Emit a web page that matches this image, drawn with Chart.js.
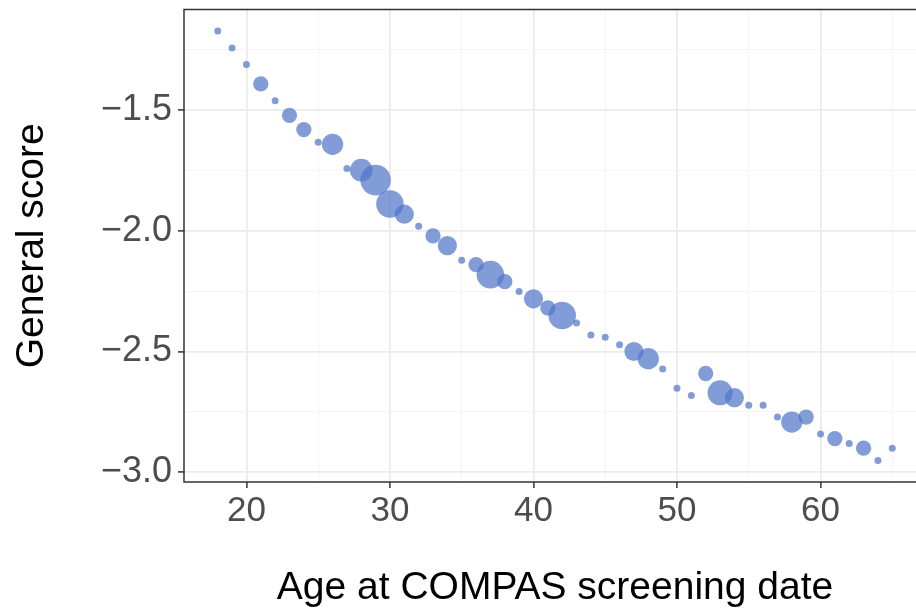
<!DOCTYPE html>
<html>
<head>
<meta charset="utf-8">
<script src="https://cdn.jsdelivr.net/npm/chart.js@4/dist/chart.umd.min.js"></script>
<style>
  html, body { margin: 0; padding: 0; background: #ffffff; overflow: hidden; }
  #wrap { width: 916px; height: 612px; overflow: hidden; }
  canvas { display: block; }
</style>
</head>
<body>
<div id="wrap"><canvas id="chart" width="940" height="612"></canvas></div>
<script>
// Mean general score by age at screening; bubble size = number of people of that age
const ages = [18, 19, 20, 21, 22, 23, 24, 25, 26, 27, 28, 29, 30, 31, 32, 33,
              34, 35, 36, 37, 38, 39, 40, 41, 42, 43, 44, 45, 46, 47, 48, 49,
              50, 51, 52, 53, 54, 55, 56, 57, 58, 59, 60, 61, 62, 63, 64, 65];
const scores = [-1.174, -1.244, -1.313, -1.393, -1.463, -1.523, -1.582, -1.634,
                -1.643, -1.743, -1.750, -1.791, -1.890, -1.932, -1.982, -2.022,
                -2.062, -2.122, -2.141, -2.182, -2.211, -2.252, -2.282, -2.320,
                -2.351, -2.382, -2.432, -2.441, -2.472, -2.500, -2.530, -2.572,
                -2.652, -2.682, -2.591, -2.671, -2.691, -2.722, -2.722, -2.771,
                -2.792, -2.771, -2.841, -2.860, -2.881, -2.900, -2.951, -2.900];
const counts = [4, 4, 4, 19, 4, 19, 19, 4, 37, 4, 42, 76, 62, 30, 4, 19,
                30, 4, 19, 62, 19, 4, 30, 19, 62, 4, 4, 4, 4, 30, 37, 4,
                4, 4, 19, 51, 30, 4, 4, 4, 37, 19, 4, 19, 4, 19, 4, 4];

// Axis ticks: labelled (major) and unlabelled (minor) positions
const xMajorTicks = [20, 30, 40, 50, 60];
const xMinorTicks = [25, 35, 45, 55, 65];
const yMajorTicks = [-3.0, -2.5, -2.0, -1.5];
const yMinorTicks = [-2.75, -2.25, -1.75, -1.25];

const xTitle = 'Age at COMPAS screening date';
const yTitle = 'General score';

// area-proportional bubble radius
const radiusFor = n => 1.75 * Math.sqrt(n);

const points = ages.map((a, i) => ({ x: a, y: scores[i], r: radiusFor(counts[i]) }));

// 5% padding around the data range on both axes
function paddedRange(values) {
  const lo = Math.min(...values), hi = Math.max(...values);
  const pad = (hi - lo) * 0.05;
  return [lo - pad, hi + pad];
}
const [xMin, xMax] = paddedRange(ages);
const [yMin, yMax] = paddedRange(scores);

const FONT = "'Liberation Sans', Arial, Helvetica, sans-serif";
const MAJOR_GRID = '#EBEBEB';
const MINOR_GRID = '#F4F4F4';

function tickSetter(major, minor) {
  return scale => {
    scale.ticks = major.concat(minor).sort((a, b) => a - b)
      .map(v => ({ value: v, major: major.includes(v) }));
  };
}
const isMajor = ctx => ctx.tick && ctx.tick.major;

// Dark frame around the plotting panel
const panelBorder = {
  id: 'panelBorder',
  afterDraw(chart) {
    const { ctx, chartArea: a } = chart;
    ctx.save();
    ctx.strokeStyle = '#333333';
    ctx.lineWidth = 1.5;
    ctx.strokeRect(a.left, a.top, a.right - a.left, a.bottom - a.top);
    ctx.restore();
  }
};

new Chart(document.getElementById('chart'), {
  type: 'bubble',
  data: {
    datasets: [{
      data: points,
      backgroundColor: 'rgba(82, 118, 200, 0.72)',
      borderWidth: 0,
      hoverBorderWidth: 0
    }]
  },
  options: {
    responsive: false,
    animation: false,
    devicePixelRatio: 1,
    layout: { autoPadding: false, padding: { top: 9.5, right: 14, bottom: 0, left: 0 } },
    plugins: { legend: { display: false }, tooltip: { enabled: false } },
    elements: { point: { hoverRadius: 0 } },
    scales: {
      x: {
        type: 'linear',
        min: xMin,
        max: xMax,
        afterBuildTicks: tickSetter(xMajorTicks, xMinorTicks),
        afterFit: s => { s.height = 130; s.paddingLeft = 0; s.paddingRight = 0; },
        border: { display: false },
        grid: {
          color: ctx => isMajor(ctx) ? MAJOR_GRID : MINOR_GRID,
          lineWidth: ctx => isMajor(ctx) ? 1.8 : 0.9,
          tickColor: ctx => isMajor(ctx) ? '#333333' : 'rgba(0,0,0,0)',
          tickWidth: 1.5,
          tickLength: 6,
          drawTicks: true
        },
        ticks: {
          autoSkip: false,
          maxRotation: 0,
          padding: 2,
          color: '#4D4D4D',
          font: { family: FONT, size: 35 },
          callback: v => xMajorTicks.includes(v) ? String(v) : ''
        },
        title: {
          display: true,
          text: xTitle,
          color: '#000000',
          font: { family: FONT, size: 39 },
          padding: { top: 0, bottom: 0 }
        }
      },
      y: {
        type: 'linear',
        min: yMin,
        max: yMax,
        afterBuildTicks: tickSetter(yMajorTicks, yMinorTicks),
        afterFit: s => { s.width = 184; s.paddingTop = 0; s.paddingBottom = 0; },
        border: { display: false },
        grid: {
          color: ctx => isMajor(ctx) ? MAJOR_GRID : MINOR_GRID,
          lineWidth: ctx => isMajor(ctx) ? 1.8 : 0.9,
          tickColor: ctx => isMajor(ctx) ? '#333333' : 'rgba(0,0,0,0)',
          tickWidth: 1.5,
          tickLength: 6,
          drawTicks: true
        },
        ticks: {
          autoSkip: false,
          padding: 6,
          color: '#4D4D4D',
          font: { family: FONT, size: 36 },
          callback: v => yMajorTicks.includes(v) ? v.toFixed(1).replace('-', '\u2212') : ''
        },
        title: {
          display: true,
          text: yTitle,
          color: '#000000',
          font: { family: FONT, size: 39 },
          padding: { top: 9, bottom: 0 }
        }
      }
    }
  },
  plugins: [panelBorder]
});
</script>
</body>
</html>
